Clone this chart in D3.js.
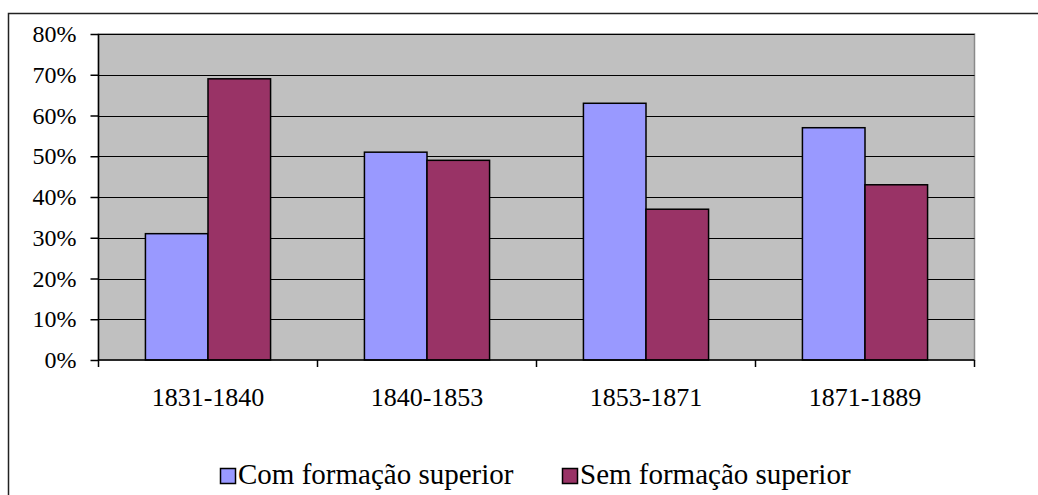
<!DOCTYPE html>
<html><head><meta charset="utf-8">
<script src="https://cdn.jsdelivr.net/npm/d3@7"></script>
<style>html,body{margin:0;padding:0;background:#fff;}svg{display:block;}</style>
</head><body>
<script>
const categories = ["1831-1840", "1840-1853", "1853-1871", "1871-1889"];
const seriesNames = ["Com formação superior", "Sem formação superior"];
const comValues = [31, 51, 63, 57];
const semValues = [69, 49, 37, 43];
const yTicks = [0, 10, 20, 30, 40, 50, 60, 70, 80];
const colors = ["#9999ff", "#993366"];

(function () {
const W = 1038, H = 495;
const svg = d3.select("body").append("svg").attr("width", W).attr("height", H);
const font = "'Liberation Serif','Times New Roman',serif";

// outer border
svg.append("rect").attr("x", 8.5).attr("y", 13.5).attr("width", W + 10).attr("height", H + 10)
  .attr("fill", "none").attr("stroke", "#222").attr("stroke-width", 1.5);

const pL = 98.5, pR = 974.5, pT = 34, pB = 360;
const x = d3.scaleBand().domain(categories).range([pL, pR]);
const y = d3.scaleLinear().domain([0, 80]).range([pB, pT]);

svg.append("rect").attr("x", pL).attr("y", pT).attr("width", pR - pL).attr("height", pB - pT)
  .attr("fill", "#c0c0c0").attr("stroke", "#8a8a8a").attr("stroke-width", 1.5);

// gridlines
svg.append("g").selectAll("line").data(yTicks.filter(d => d > 0)).join("line")
  .attr("x1", pL).attr("x2", pR).attr("y1", d => Math.round(y(d)) + 0.5).attr("y2", d => Math.round(y(d)) + 0.5)
  .attr("stroke", "#000").attr("stroke-width", 1);

// bars
const inner = d3.scaleBand().domain([0, 1]).range([0, x.bandwidth()]).paddingOuter(0.75).paddingInner(0);
const g = svg.append("g");
categories.forEach((c, i) => {
  [comValues[i], semValues[i]].forEach((v, s) => {
    g.append("rect")
      .attr("x", x(c) + inner(s)).attr("y", y(v))
      .attr("width", inner.bandwidth()).attr("height", y(0) - y(v))
      .attr("fill", colors[s]).attr("stroke", "#000").attr("stroke-width", 1.5);
  });
});

// y axis
const yAxis = d3.axisLeft(y).tickValues(yTicks).tickFormat(d => d + "%").tickSize(8).tickPadding(14);
const ya = svg.append("g").attr("transform", `translate(${pL},0)`).call(yAxis);
ya.select(".domain").attr("stroke", "#000").attr("stroke-width", 1.5).attr("d", `M0,${pT}V${pB}`);
ya.selectAll(".tick line").attr("stroke", "#000").attr("stroke-width", 1.5);
ya.selectAll("text").attr("font-family", font).attr("font-size", 24).attr("fill", "#000");

// x axis
const xa = svg.append("g").attr("transform", `translate(0,${pB})`);
xa.append("line").attr("x1", pL).attr("x2", pR).attr("y1", 0).attr("y2", 0).attr("stroke", "#000").attr("stroke-width", 1.5);
const bounds = categories.map(c => x(c)).concat([pR]);
xa.selectAll(".tk").data(bounds).join("line").attr("class", "tk")
  .attr("x1", d => d).attr("x2", d => d).attr("y1", 0).attr("y2", 7).attr("stroke", "#000").attr("stroke-width", 1.5);
xa.selectAll(".lbl").data(categories).join("text").attr("class", "lbl")
  .attr("x", d => x(d) + x.bandwidth() / 2).attr("y", 46)
  .attr("text-anchor", "middle").attr("font-family", font).attr("font-size", 26).attr("fill", "#000").text(d => d);

// legend
const legendX = [220, 562];
const lg = svg.append("g");
seriesNames.forEach((n, i) => {
  lg.append("rect").attr("x", legendX[i] + 0.5).attr("y", 468.5).attr("width", 15).attr("height", 15)
    .attr("fill", colors[i]).attr("stroke", "#000").attr("stroke-width", 1.5);
  lg.append("text").attr("x", legendX[i] + 18).attr("y", 484).attr("font-family", font).attr("font-size", 29)
    .attr("fill", "#000").text(n);
});
})();
</script>
</body></html>
